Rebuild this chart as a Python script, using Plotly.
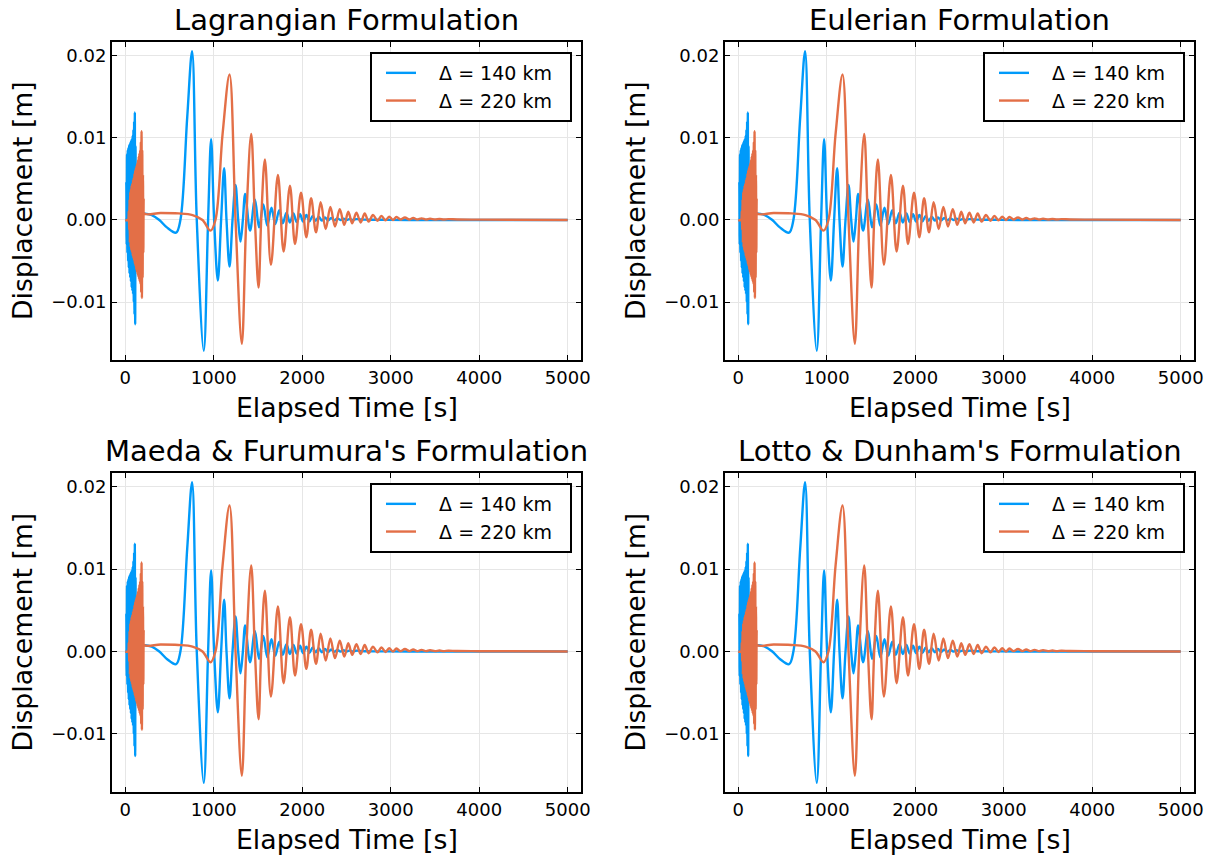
import plotly.graph_objects as go

# ---------------- data ----------------
titles = ["Lagrangian Formulation", "Eulerian Formulation",
          "Maeda & Furumura's Formulation", "Lotto & Dunham's Formulation"]
series_names = ["Δ = 140 km", "Δ = 220 km"]
x_ticks = [0, 1000, 2000, 3000, 4000, 5000]
x_tick_labels = ["0", "1000", "2000", "3000", "4000", "5000"]
y_ticks = [-0.01, 0.0, 0.01, 0.02]
y_tick_labels = ["−0.01", "0.00", "0.01", "0.02"]

# Δ = 140 km  (elapsed time [s], displacement [m])
t_140 = [0, 8, 12, 16, 20, 24, 28, 32, 36, 40, 44, 48, 52, 56, 60, 64, 68, 72, 76, 80,
         84, 88, 92, 96, 100, 104, 108, 112, 116, 120, 124, 128,
         200, 300, 385, 470, 574, 623, 700, 755, 808, 887, 936, 970, 1004, 1046,
         1083, 1117, 1144, 1178, 1212, 1246, 1276, 1302, 1329, 1355,
         1410, 1465, 1512, 1560, 1605, 1652, 1695, 1740, 1780, 1822, 1860, 1900,
         1937, 1975, 2010, 2047, 2082, 2117, 2152, 2187, 2222, 2257, 2292, 2327,
         2362, 2397, 2432, 2467, 2502, 2537, 2572, 2607, 2700, 2900, 3200, 5000]
u_140 = [0.0, 0.0, 0.0045, -0.0030, 0.0080, -0.0040, 0.0085, -0.0050, 0.0088, -0.0058,
         0.0091, -0.0065, 0.0093, -0.0070, 0.0095, -0.0075, 0.0097, -0.0082, 0.0099, -0.0086,
         0.0103, -0.0090, 0.0110, -0.0100, 0.0120, -0.0115, 0.0131, -0.0127, 0.0090, -0.0060,
         0.0030, 0.0008,
         0.0008, 0.0006, 0.0, -0.0009, -0.00154, 0.0, 0.0125, 0.02056, 0.0, -0.01594, 0.0,
         0.00985, 0.0, -0.00738,
         0.0, 0.00629, 0.0, -0.00568, 0.0, 0.00426, 0.0, -0.00264, 0.0, 0.00316,
         -0.0013, 0.0025, -0.0009, 0.0019, -0.0007, 0.0015, -0.0005, 0.0012, -0.0004,
         0.0009, -0.0003, 0.0008,
         -0.00025, 0.0007, -0.0002, 0.0006, -0.00015, 0.0005, -0.0001, 0.0004, -0.00008,
         0.0003, -0.00005, 0.00025,
         -0.00003, 0.0002, 0.0, 0.00015, 0.0, 0.00012, 0.0, 0.0001, 0.00004, 0.00002, 0.0, 0.0]

# Δ = 220 km
t_220 = [0, 30, 40, 44, 48, 52, 56, 60, 64, 68, 72, 76, 80, 84, 88, 92, 96, 100, 104, 108,
         112, 116, 120, 124, 128, 132, 136, 140, 144, 148, 152, 156, 160, 164, 168, 172,
         176, 180, 184, 188, 192, 196, 200, 204, 208, 212,
         400, 600, 760, 873, 963, 1019, 1100, 1178, 1246, 1317, 1367, 1423, 1465, 1506,
         1536, 1578, 1646, 1725, 1789, 1861, 1918, 1986, 2046, 2100, 2155, 2208, 2265,
         2318, 2370, 2424, 2475, 2520, 2565, 2612, 2660, 2706, 2750, 2800, 2850, 2895,
         2940, 2982, 3025, 3065, 3110, 3160, 3210, 3254, 3300, 3348, 3400, 3443, 3500,
         3550, 3600, 3650, 3750, 4000, 5000]
u_220 = [0.0, 0.0, 0.0010, -0.0012, 0.0025, -0.0028, 0.0034, -0.0033, 0.0038, -0.0037,
         0.0042, -0.0040, 0.0045, -0.0044, 0.0049, -0.0047, 0.0052, -0.0050, 0.0056, -0.0053,
         0.0060, -0.0056, 0.0063, -0.0060, 0.0066, -0.0063, 0.0069, -0.0066, 0.0073, -0.0069,
         0.0077, -0.0072, 0.0081, -0.0075, 0.0085, -0.0078, 0.0095, -0.0088, 0.0108, -0.0095,
         0.0085, -0.0070, 0.0055, -0.0040, 0.0025, 0.0008,
         0.00085, 0.0008, 0.0006, 0.0, -0.0013, 0.0, 0.0105, 0.01772, 0.0, -0.01508, 0.0,
         0.01046, 0.0, -0.00823,
         0.0, 0.00738, -0.00547, 0.00547, -0.00385, 0.00418, -0.00292, 0.00333, -0.00210,
         0.00265, -0.0015, 0.00215, -0.0011,
         0.0016, -0.0008, 0.0013, -0.0006, 0.0010, -0.0004, 0.0009, -0.0003, 0.0008,
         -0.0002, 0.0006, -0.0001, 0.0005,
         -0.00005, 0.0004, 0.0, 0.00036, 0.00005, 0.0003, 0.00005, 0.00024, 0.00005, 0.0002,
         0.00005, 0.00016, 0.00005,
         0.00012, 0.00005, 0.0001, 0.00006, 0.00004, 0.0]

colors = ["#009AFA", "#E36F47"]

# ---------------- layout geometry ----------------
W, H = 1223, 857
col_px = [(112, 581), (725, 1194)]
row_px = [(42, 360), (473, 792)]
x_range = [-150, 5150]
y_range = [-0.01705, 0.02167]
FONT = "DejaVu Sans"
NB = "\u00a0"

fig = go.Figure()
annotations = []
for k, title in enumerate(titles):
    r, c = divmod(k, 2)
    ax = "" if k == 0 else str(k + 1)
    for s, (tt, uu) in enumerate([(t_140, u_140), (t_220, u_220)]):
        fig.add_trace(go.Scatter(
            x=tt, y=uu, mode="lines", name=NB * 3 + series_names[s] + NB * 2,
            line=dict(color=colors[s], width=2.4, shape="spline", smoothing=1.0),
            xaxis="x" + ax, yaxis="y" + ax,
            legend="legend" + ax, showlegend=True))
    x0, x1 = col_px[c]
    y0, y1 = row_px[r]
    dom_x = [x0 / W, x1 / W]
    dom_y = [1 - y1 / H, 1 - y0 / H]
    common = dict(showline=True, linecolor="black", linewidth=2, mirror="allticks",
                  ticks="inside", ticklen=5, tickwidth=1.2, tickcolor="black",
                  showgrid=True, gridcolor="#e6e6e6", gridwidth=1, zeroline=False,
                  automargin=False,
                  tickfont=dict(family=FONT, size=18, color="black"))
    fig.update_layout(**{
        "xaxis" + ax: dict(domain=dom_x, range=x_range, anchor="y" + ax,
                           tickvals=x_ticks, ticktext=x_tick_labels, **common),
        "yaxis" + ax: dict(domain=dom_y, range=y_range, anchor="x" + ax,
                           tickvals=y_ticks, ticktext=y_tick_labels, **common),
        "legend" + ax: dict(x=(x1 - 9) / W, y=1 - (y0 + 10) / H, xanchor="right", yanchor="top",
                            bgcolor="white", bordercolor="black", borderwidth=2,
                            indentation=9,
                            font=dict(family=FONT, size=19, color="black")),
    })
    cx = (x0 + x1) / 2 / W
    annotations.append(dict(text=title, x=cx, y=1 - (y0 - 22) / H, xref="paper", yref="paper",
                            showarrow=False, xanchor="center", yanchor="middle",
                            font=dict(family=FONT, size=29, color="black")))
    annotations.append(dict(text="Elapsed Time [s]", x=cx, y=1 - (y1 + 47) / H,
                            xref="paper", yref="paper", showarrow=False,
                            xanchor="center", yanchor="middle",
                            font=dict(family=FONT, size=26.7, color="black")))
    annotations.append(dict(text="Displacement [m]", x=(x0 - 90) / W, y=1 - (y0 + y1) / 2 / H,
                            xref="paper", yref="paper", showarrow=False, textangle=-90,
                            xanchor="center", yanchor="middle",
                            font=dict(family=FONT, size=26.7, color="black")))

fig.update_layout(template="none", width=W, height=H, autosize=False,
                  margin=dict(l=0, r=0, t=0, b=0, pad=0, autoexpand=False),
                  paper_bgcolor="white", plot_bgcolor="white",
                  annotations=annotations, font=dict(family=FONT))
fig.write_html("out.html",
               config={"displayModeBar": False, "responsive": False},
               post_script="document.body.style.margin='0';")
